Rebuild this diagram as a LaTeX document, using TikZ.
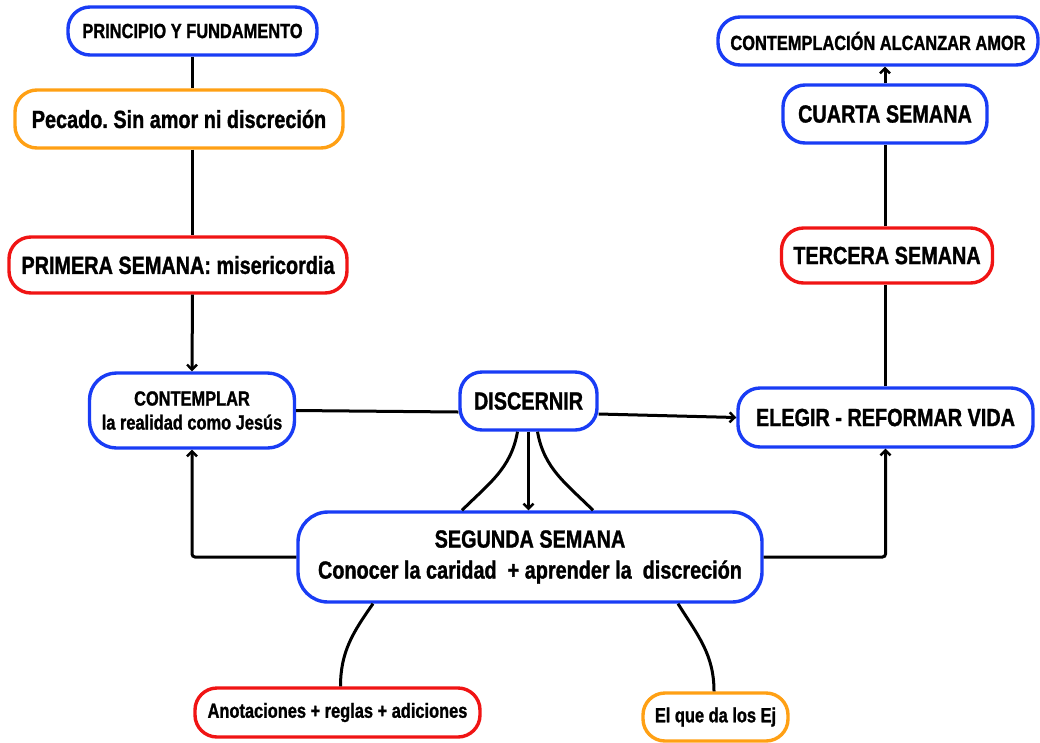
\documentclass[tikz,border=0pt]{standalone}
\usepackage{fontspec}
\setmainfont{Liberation Sans}[FakeStretch=0.8, BoldFeatures={FakeBold=1.2}]
\usetikzlibrary{arrows.meta}
\frenchspacing
\definecolor{myblue}{RGB}{25,60,245}
\definecolor{myred}{RGB}{240,20,20}
\definecolor{myorange}{RGB}{255,160,20}
\newcommand{\smallf}{\bfseries\fontsize{20.5}{24}\selectfont}
\newcommand{\largef}{\bfseries\fontsize{24.8}{31}\selectfont}
\tikzset{
  box/.style={draw, line width=3.4pt, rounded corners=22pt, fill=white, inner sep=0pt, align=center, text=black},
  bbox/.style={box, draw=myblue},
  rbox/.style={box, draw=myred},
  obox/.style={box, draw=myorange},
  conn/.style={line width=3pt, black},
  arr/.style={conn, -{Straight Barb[length=5pt,width=10pt,line width=2.4pt]}}
}
\begin{document}
\begin{tikzpicture}[x=1pt,y=-1pt]
\fill[white] (0,0) rectangle (1040,742);
\useasboundingbox (0,0) rectangle (1040,742);

\node[bbox, minimum width=249pt, minimum height=48pt, font=\smallf] (pf) at (192.5,31) {PRINCIPIO Y FUNDAMENTO};
\node[obox, minimum width=328pt, minimum height=58pt, font=\largef] (pec) at (179,119) {Pecado. Sin amor ni discreción};
\node[rbox, minimum width=338pt, minimum height=56pt, font=\largef] (prim) at (178,265) {PRIMERA SEMANA: misericordia};
\node[bbox, minimum width=205pt, minimum height=75pt, rounded corners=27pt, font=\smallf] (cont) at (192,410.5) {CONTEMPLAR\\la realidad como Jesús};
\node[bbox, minimum width=137pt, minimum height=58pt, font=\largef] (disc) at (528.5,401) {DISCERNIR};
\node[bbox, minimum width=295pt, minimum height=59pt, font=\largef] (eleg) at (885.5,417.5) {ELEGIR - REFORMAR VIDA};
\node[bbox, minimum width=464pt, minimum height=90pt, rounded corners=30pt, font=\largef] (seg) at (530,557) {SEGUNDA SEMANA\\Conocer la caridad\ \ + aprender la\ \ discreción};
\node[rbox, minimum width=285pt, minimum height=49pt, font=\smallf] (anot) at (337.5,712.5) {Anotaciones + reglas + adiciones};
\node[obox, minimum width=145pt, minimum height=48pt, font=\smallf] (elq) at (715.5,717) {El que da los Ej};
\node[rbox, minimum width=211pt, minimum height=55pt, font=\largef] (terc) at (887,255.5) {TERCERA SEMANA};
\node[bbox, minimum width=204pt, minimum height=58pt, font=\largef] (cuar) at (885,114) {CUARTA SEMANA};
\node[bbox, minimum width=320pt, minimum height=48pt, font=\smallf] (contp) at (878,41) {CONTEMPLACIÓN ALCANZAR AMOR};

% left column
\draw[conn] (pf.south) -- (pf.south |- pec.north);
\draw[conn] (pf.south |- pec.south) -- (pf.south |- prim.north);
\draw[arr] (pf.south |- prim.south) -- (cont.north);

% middle row
\draw[conn] (cont.east) -- ([yshift=-11pt]disc.west);
\draw[arr] ([yshift=-13pt]disc.east) -- (eleg.west);

% discernir to segunda
\draw[arr] (disc.south) -- (disc.south |- seg.north);
\draw[conn] ([xshift=-11pt]disc.south) to[out=-100,in=45] ([xshift=-68pt]seg.north);
\draw[conn] ([xshift=9pt]disc.south) to[out=-80,in=135] ([xshift=63pt]seg.north);

% segunda elbows
\draw[arr, rounded corners=3pt] (seg.west) -| (cont.south);
\draw[arr, rounded corners=3pt] (seg.east) -| (eleg.south);

% segunda to bottom
\draw[conn] ([xshift=-157pt]seg.south) to[out=-125,in=90] ([xshift=3pt]anot.north);
\draw[conn] ([xshift=148pt]seg.south) to[out=-58,in=90] ([xshift=-1.5pt]elq.north);

% right column
\draw[conn] (eleg.north) -- (eleg.north |- terc.south);
\draw[conn] (cuar.south |- terc.north) -- (cuar.south);
\draw[arr] (cuar.north) -- (cuar.north |- contp.south);
\end{tikzpicture}
\end{document}
